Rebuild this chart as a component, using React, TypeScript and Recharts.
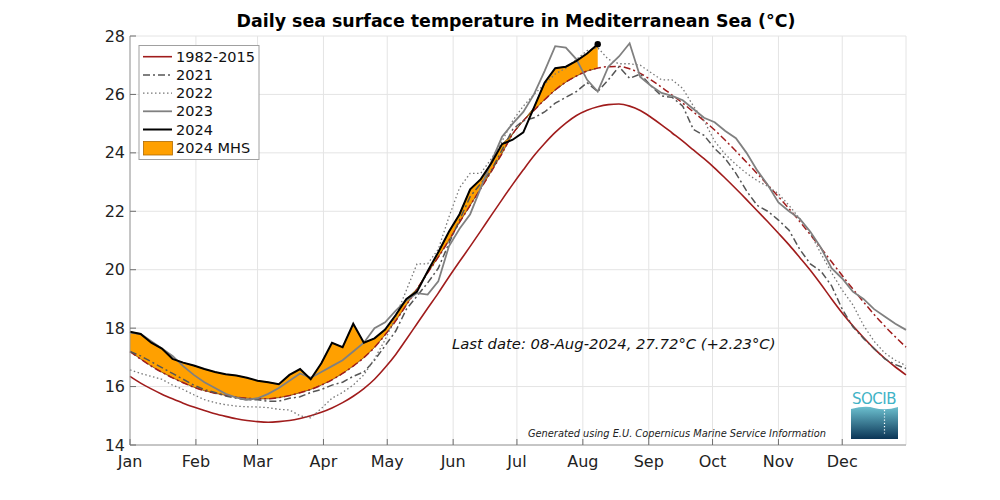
import React from 'react'
import {
  Area,
  CartesianGrid,
  ComposedChart,
  Line,
  XAxis,
  YAxis,
} from 'recharts'

// day of year (2024, leap) sampled every 5 days
const DAYS = [
  1, 6, 11, 16, 21, 26, 31, 36, 41, 46, 51, 56, 61, 66, 71, 76, 81, 86, 91, 96,
  101, 106, 111, 116, 121, 126, 131, 136, 141, 146, 151, 156, 161, 166, 171, 176,
  181, 186, 191, 196, 201, 206, 211, 216, 221, 226, 231, 236, 241, 246, 251, 256,
  261, 266, 271, 276, 281, 286, 291, 296, 301, 306, 311, 316, 321, 326, 331, 336,
  341, 346, 351, 356, 361, 366,
]

const CLIM = [
  16.35, 16.12, 15.92, 15.74, 15.58, 15.43, 15.3, 15.18, 15.07, 14.98, 14.9, 14.84,
  14.8, 14.78, 14.8, 14.84, 14.91, 15.0, 15.12, 15.27, 15.45, 15.67, 15.93, 16.25,
  16.65, 17.1, 17.62, 18.15, 18.68, 19.2, 19.75, 20.28, 20.8, 21.33, 21.87, 22.4,
  22.92, 23.42, 23.9, 24.32, 24.7, 25.02, 25.28, 25.46, 25.58, 25.65, 25.67, 25.6,
  25.45, 25.22, 24.96, 24.68, 24.4, 24.1, 23.8, 23.48, 23.13, 22.77, 22.4, 22.02,
  21.64, 21.25, 20.85, 20.42, 19.98, 19.5, 19.0, 18.52, 18.08, 17.68, 17.3, 16.97,
  16.67, 16.4,
]

// 90th percentile threshold
const THR = [
  17.2, 16.94, 16.7, 16.49, 16.3, 16.13, 15.98, 15.86, 15.77, 15.7, 15.64, 15.6,
  15.58, 15.58, 15.62, 15.69, 15.79, 15.9, 16.05, 16.23, 16.45, 16.7, 16.99, 17.34,
  17.77, 18.25, 18.79, 19.34, 19.89, 20.43, 21.0, 21.62, 22.2, 22.78, 23.37, 23.98,
  24.65, 25.1, 25.45, 25.82, 26.15, 26.42, 26.63, 26.8, 26.9, 26.95, 26.96, 26.88,
  26.72, 26.5, 26.25, 25.98, 25.7, 25.4, 25.1, 24.78, 24.43, 24.06, 23.68, 23.29,
  22.9, 22.5, 22.09, 21.65, 21.2, 20.74, 20.27, 19.8, 19.34, 18.9, 18.47, 18.07,
  17.7, 17.35,
]

const Y2021 = [
  17.2, 17.05, 16.85, 16.65, 16.45, 16.25, 16.05, 15.9, 15.8, 15.68, 15.6, 15.55,
  15.55, 15.5, 15.5, 15.6, 15.65, 15.8, 15.9, 16.05, 16.15, 16.35, 16.5, 16.9,
  17.4, 17.9, 18.65, 19.1, 19.55, 20.05, 20.9, 21.7, 22.5, 22.95, 23.4, 24.1,
  24.8, 25.1, 25.2, 25.4, 25.7, 25.9, 26.1, 26.4, 26.1, 26.5, 26.95, 26.55,
  26.7, 26.3, 25.95, 25.9, 25.6, 24.8, 24.6, 24.15, 23.8, 23.3, 22.7, 22.2,
  22.0, 21.7, 21.35, 20.7, 20.2, 19.95, 19.45, 18.65, 18.05, 17.65, 17.3, 16.95,
  16.75, 16.62,
]

const Y2022 = [
  16.57, 16.45, 16.35, 16.25, 16.05, 15.9, 15.72, 15.55, 15.45, 15.38, 15.33, 15.31,
  15.3, 15.28, 15.22, 15.2, 15.0, 14.93, 15.25, 15.6, 15.8, 16.05, 16.4, 16.95,
  17.6, 18.4, 19.3, 20.2, 20.2, 20.7, 21.8, 22.8, 23.3, 23.3, 23.8, 24.4,
  25.1, 25.6, 26.0, 26.35, 26.7, 26.9, 27.2, 27.5, 27.6, 27.2, 27.05, 27.05,
  27.0, 26.75, 26.5, 26.5, 26.2, 25.6, 25.1, 24.4, 23.95, 23.6, 23.3, 23.05,
  22.85, 22.6, 22.2, 21.75, 21.25, 20.55, 19.9, 19.3, 18.8, 18.1, 17.55, 17.15,
  16.9, 16.72,
]

const Y2023 = [
  17.85, 17.8, 17.55, 17.3, 17.05, 16.7, 16.4, 16.15, 15.95, 15.75, 15.62, 15.55,
  15.6, 15.75, 15.95, 16.2, 16.45, 16.3, 16.5, 16.7, 16.9, 17.2, 17.5, 18.0,
  18.2, 18.6, 18.95, 19.2, 19.15, 19.6, 20.8, 21.4, 21.9, 22.8, 23.7, 24.55,
  25.0, 25.4, 26.0, 26.8, 27.65, 27.6, 27.2, 26.5, 26.1, 26.95, 27.3, 27.75,
  26.6, 26.3, 26.05, 25.95, 25.8, 25.5, 25.2, 25.05, 24.75, 24.5, 24.0, 23.4,
  22.9, 22.3, 22.0, 21.75, 21.3, 20.75, 20.05, 19.7, 19.25, 19.0, 18.65, 18.4,
  18.15, 17.94,
]

// 2024 until 08-Aug
const Y2024 = [
  17.88, 17.8, 17.5, 17.3, 16.95, 16.82, 16.72, 16.6, 16.5, 16.42, 16.38, 16.3,
  16.2, 16.15, 16.08, 16.4, 16.6, 16.25, 16.8, 17.5, 17.35, 18.15, 17.5, 17.65,
  17.95, 18.45, 19.0, 19.25, 19.95, 20.6, 21.3, 21.9, 22.75, 23.1, 23.65, 24.3,
  24.45, 24.7, 25.55, 26.4, 26.9, 26.95, 27.15, 27.4, 27.72,
]

const MONTH_TICKS = [1, 32, 61, 92, 122, 153, 183, 214, 245, 275, 306, 336]
const MONTH_LABELS = ['Jan', 'Feb', 'Mar', 'Apr', 'May', 'Jun', 'Jul', 'Aug', 'Sep', 'Oct', 'Nov', 'Dec']
const TEMP_TICKS = [14, 16, 18, 20, 22, 24, 26, 28]

const FONT = '"DejaVu Sans", Verdana, sans-serif'
const FRAME = '#9a9a9a'
const TICK = '#6e6e6e'
const RED = '#a01c1c'
const MHS = '#ffa000'

const rows = DAYS.map((day, i) => {
  const has = i < Y2024.length
  return {
    day,
    clim: CLIM[i],
    thr: THR[i],
    y2021: Y2021[i],
    y2022: Y2022[i],
    y2023: Y2023[i],
    y2024: has ? Y2024[i] : null,
    mhs: has ? [THR[i], Math.max(THR[i], Y2024[i])] : null,
  }
})

const LeftTick = (props: any) => {
  const { x, y, payload } = props
  return (
    <g>
      <line x1={x + 5} x2={x + 11} y1={y} y2={y} stroke={TICK} />
      <text x={x} y={y} dy={5.5} textAnchor='end' fontSize={16} fontFamily={FONT} fill='#222'>
        {payload.value}
      </text>
    </g>
  )
}

const RightTick = (props: any) => {
  const { x, y } = props
  return <line x1={x - 6} x2={x} y1={y} y2={y} stroke={TICK} />
}

const BottomTick = (props: any) => {
  const { x, y, payload } = props
  const idx = MONTH_TICKS.indexOf(payload.value)
  return (
    <g>
      <line x1={x} x2={x} y1={y - 6} y2={y} stroke={TICK} />
      <text x={x} y={y + 22} textAnchor='middle' fontSize={16} fontFamily={FONT} fill='#222'>
        {MONTH_LABELS[idx]}
      </text>
    </g>
  )
}

const TopTick = (props: any) => {
  const { x, y } = props
  return <line x1={x} x2={x} y1={y} y2={y + 6} stroke={TICK} />
}

const LastDot = (props: any) => {
  const { cx, cy, index } = props
  if (index !== Y2024.length - 1) return <g key={`d${index}`} />
  return <circle key={`d${index}`} cx={cx} cy={cy} r={3.2} fill='#000' />
}

const legendItems = [
  { label: '1982-2015', color: RED, dash: undefined, width: 1.6 },
  { label: '2021', color: '#555', dash: '7 3 2 3', width: 1.5 },
  { label: '2022', color: '#777', dash: '1.5 2.5', width: 1.3 },
  { label: '2023', color: '#808080', dash: undefined, width: 1.8 },
  { label: '2024', color: '#000', dash: undefined, width: 2 },
]

function Overlay() {
  return (
    <svg
      width={1000}
      height={500}
      style={{ position: 'absolute', left: 0, top: 0, pointerEvents: 'none' }}
      fontFamily={FONT}
    >
      <defs>
        <linearGradient id='socib' x1='0' y1='0' x2='0' y2='1'>
          <stop offset='0%' stopColor='#6cc0cf' />
          <stop offset='100%' stopColor='#0b3556' />
        </linearGradient>
      </defs>
      <text x={516} y={27} textAnchor='middle' fontSize={17.4} fontWeight='bold' fill='#000'>
        Daily sea surface temperature in Mediterranean Sea (°C)
      </text>

      <rect x={139} y={45.5} width={120} height={114} fill='#fff' stroke='#a0a0a0' strokeWidth={1} />
      {legendItems.map((it, i) => {
        const cy = 56.7 + i * 18.2
        return (
          <g key={it.label}>
            <line x1={143} x2={172} y1={cy} y2={cy} stroke={it.color} strokeWidth={it.width} strokeDasharray={it.dash} />
            <text x={176} y={cy + 5} fontSize={14.5} fill='#111'>
              {it.label}
            </text>
          </g>
        )
      })}
      <rect x={143.5} y={141.5} width={29} height={13.5} fill={MHS} stroke='#b06a00' strokeWidth={0.8} />
      <text x={176} y={153} fontSize={14.5} fill='#111'>
        2024 MHS
      </text>

      <text x={452} y={349} fontSize={14.8} fontStyle='italic' fill='#111'>
        Last date: 08-Aug-2024, 27.72°C (+2.23°C)
      </text>
      <text x={528} y={437} fontSize={9.8} fontStyle='italic' fill='#222'>
        Generated using E.U. Copernicus Marine Service Information
      </text>

      <text x={874} y={404} textAnchor='middle' fontSize={15} fill='#3fb3c6' letterSpacing={-0.5}>
        SOCIB
      </text>
      <path d='M851 409 Q866 405 874 408 Q886 411 898 407 L898 439 L851 439 Z' fill='url(#socib)' />
      <line x1={884.5} x2={884.5} y1={410} y2={434} stroke='#fff' strokeWidth={1.2} strokeDasharray='1.2 2' />
    </svg>
  )
}

export default function App() {
  return (
    <div style={{ position: 'absolute', left: 0, top: 0, width: 1000, height: 500, background: '#fff', fontFamily: FONT }}>
      <ComposedChart
        width={1000}
        height={500}
        data={rows}
        margin={{ top: 36, right: 94, bottom: 25, left: 90 }}
      >
        <CartesianGrid stroke='#e4e4e4' strokeWidth={1} />
        <XAxis
          dataKey='day'
          type='number'
          domain={[1, 366]}
          ticks={MONTH_TICKS}
          interval={0}
          height={30}
          tickSize={0}
          tickMargin={0}
          tickLine={false}
          axisLine={{ stroke: FRAME }}
          tick={<BottomTick />}
        />
        <XAxis
          xAxisId='t'
          dataKey='day'
          type='number'
          orientation='top'
          domain={[1, 366]}
          ticks={MONTH_TICKS}
          interval={0}
          height={0}
          tickSize={0}
          tickMargin={0}
          tickLine={false}
          axisLine={{ stroke: FRAME }}
          tick={<TopTick />}
        />
        <YAxis
          type='number'
          domain={[14, 28]}
          ticks={TEMP_TICKS}
          interval={0}
          width={40}
          tickSize={0}
          tickMargin={5}
          tickLine={false}
          axisLine={{ stroke: FRAME }}
          tick={<LeftTick />}
        />
        <YAxis
          yAxisId='r'
          orientation='right'
          type='number'
          domain={[14, 28]}
          ticks={TEMP_TICKS}
          interval={0}
          width={0}
          tickSize={0}
          tickMargin={0}
          tickLine={false}
          axisLine={{ stroke: FRAME }}
          tick={<RightTick />}
        />

        <Area
          dataKey='mhs'
          type='linear'
          fill={MHS}
          fillOpacity={1}
          stroke='#5a3a00'
          strokeWidth={0.7}
          connectNulls={false}
          dot={false}
          activeDot={false}
          isAnimationActive={false}
        />
        <Line dataKey='clim' type='monotone' stroke={RED} strokeWidth={1.6} dot={false} activeDot={false} isAnimationActive={false} />
        <Line dataKey='thr' type='monotone' stroke={RED} strokeWidth={1.5} strokeDasharray='7 3 2 3' dot={false} activeDot={false} isAnimationActive={false} />
        <Line dataKey='y2021' type='linear' stroke='#555' strokeWidth={1.5} strokeDasharray='7 3 2 3' dot={false} activeDot={false} isAnimationActive={false} />
        <Line dataKey='y2022' type='linear' stroke='#777' strokeWidth={1.3} strokeDasharray='1.5 2.5' dot={false} activeDot={false} isAnimationActive={false} />
        <Line dataKey='y2023' type='linear' stroke='#808080' strokeWidth={1.8} dot={false} activeDot={false} isAnimationActive={false} />
        <Line dataKey='y2024' type='linear' stroke='#000' strokeWidth={2} dot={<LastDot />} activeDot={false} connectNulls={false} isAnimationActive={false} />
      </ComposedChart>
      <Overlay />
    </div>
  )
}
